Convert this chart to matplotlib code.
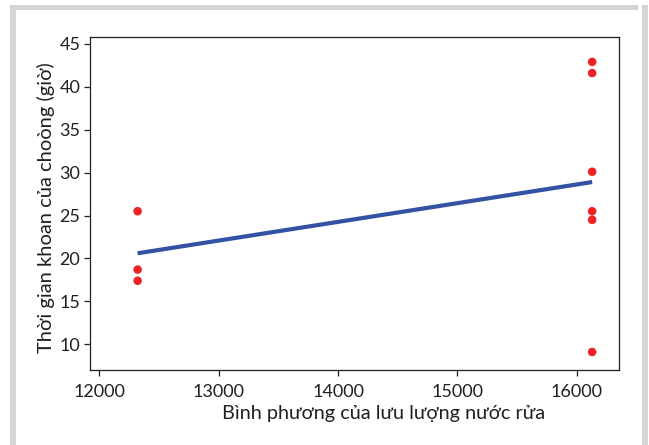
import matplotlib
matplotlib.use("Agg")
import matplotlib.pyplot as plt
from matplotlib.patches import Rectangle

# Data
x_points = [12321, 12321, 12321, 16129, 16129, 16129, 16129, 16129, 16129]
y_points = [25.5, 18.7, 17.4, 42.9, 41.6, 30.1, 25.5, 24.5, 9.1]
fit_x = [12321, 16129]
fit_y = [20.6, 28.9]
x_ticks = [12000, 13000, 14000, 15000, 16000]
y_ticks = [10, 15, 20, 25, 30, 35, 40, 45]
x_label = "Bình phương của lưu lượng nước rửa"
y_label = "Thời gian khoan của choòng (giờ)"

plt.rcParams['font.family'] = ['Lato', 'DejaVu Sans']

W, H = 649, 445
fig = plt.figure(figsize=(W / 100, H / 100), dpi=100)
fig.patch.set_facecolor("white")

gray = "#d5d5d5"
# frame bands (top, left, right)
fig.add_artist(Rectangle((10 / W, 0), 6 / W, 1 - 5 / H, transform=fig.transFigure, color=gray, lw=0))
fig.add_artist(Rectangle((10 / W, 1 - 10 / H), 638 / W - 10 / W, 5 / H, transform=fig.transFigure, color=gray, lw=0))
fig.add_artist(Rectangle((642 / W, 0), 6 / W, 1 - 5 / H, transform=fig.transFigure, color=gray, lw=0))

ax = fig.add_axes([90 / W, (H - 370) / H, (619 - 90) / W, (370 - 37) / H])
ax.plot(fit_x, fit_y, color="#3352a3", lw=3.0, solid_capstyle="butt", zorder=2)
ax.scatter(x_points, y_points, s=38, color="#ee2326", edgecolors="none", zorder=3)

ax.set_xlim(11922, 16354)
ax.set_ylim(7.0, 45.8)
ax.set_xticks(x_ticks)
ax.set_yticks(y_ticks)
ax.tick_params(direction="out", length=4, width=0.9, labelsize=13, colors="#231f20")
ax.tick_params(axis="x", pad=6)
ax.tick_params(axis="y", pad=3)
for s in ax.spines.values():
    s.set_linewidth(0.9)
    s.set_color("#231f20")

ax.set_xlabel(x_label, fontsize=14.3, color="#231f20")
ax.xaxis.set_label_coords((384 - 90) / 529, -(413 - 370) / 333, transform=ax.transAxes)
ax.xaxis.label.set_va("center")
ax.set_ylabel(y_label, fontsize=14.5, color="#231f20")
ax.yaxis.set_label_coords(-(90 - 46) / 529, (370 - 208) / 333, transform=ax.transAxes)
ax.yaxis.label.set_va("center")

fig.savefig("out.png", dpi=100)
